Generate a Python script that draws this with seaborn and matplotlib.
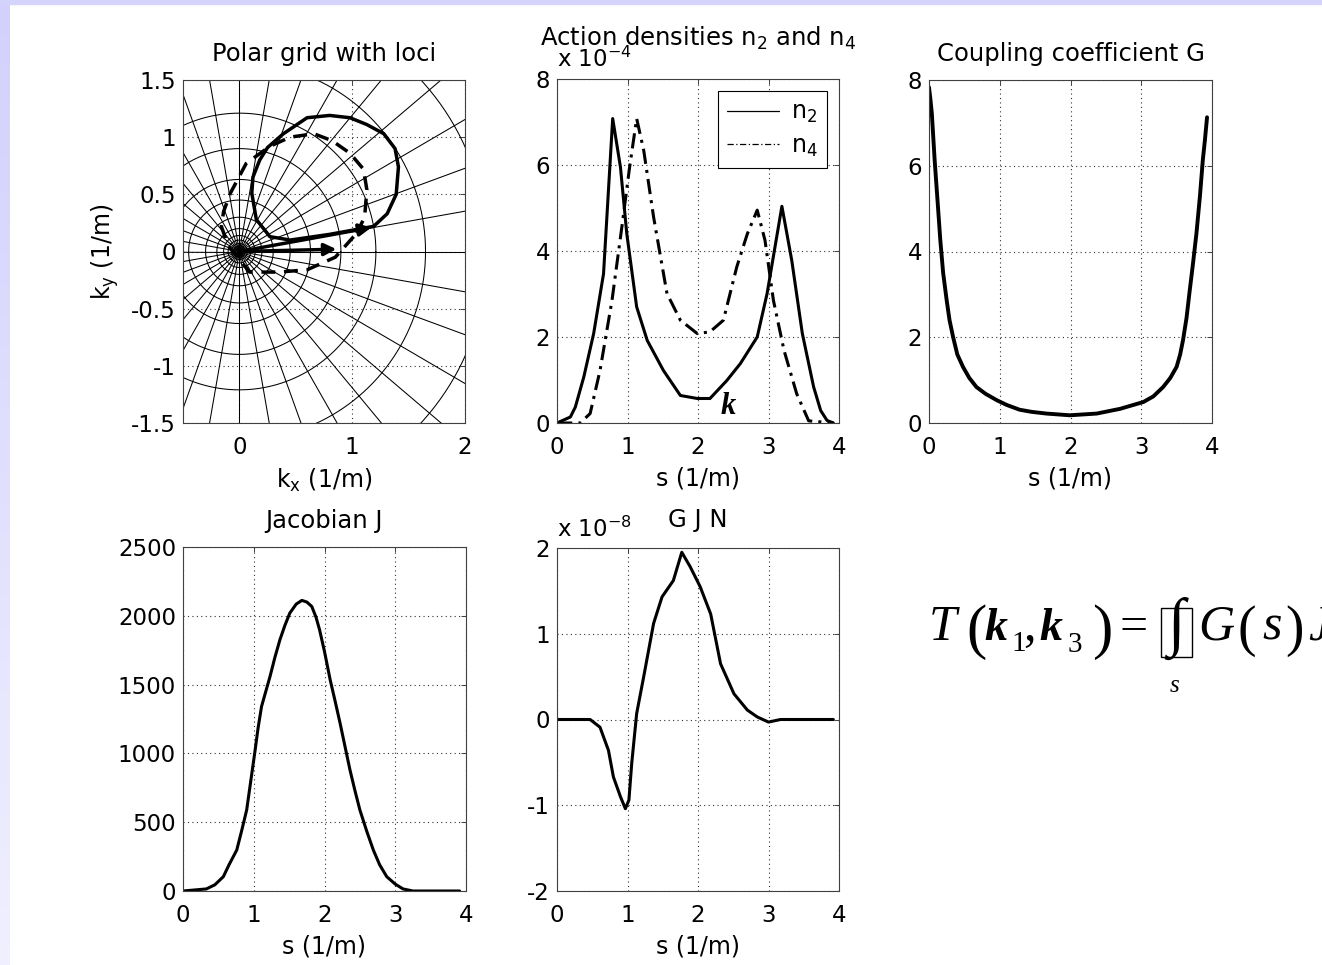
import numpy as np
import seaborn as sns
import matplotlib.pyplot as plt
from matplotlib.patches import Rectangle

# ---- data ----
# polar grid (circles centred on the origin, radial lines every 10 degrees)
grid_radii = [0.035, 0.05, 0.07, 0.1, 0.14, 0.2, 0.3, 0.45, 0.63, 0.9, 1.21, 1.65, 2.2, 2.9]
grid_angles_deg = list(range(0, 360, 10))

# solid locus
locus_solid_x = [1.19, 1.31, 1.39, 1.41, 1.38, 1.28, 1.13, 0.98, 0.80, 0.60, 0.39, 0.25, 0.18,
                 0.12, 0.11, 0.15, 0.27, 0.45, 0.80, 1.19]
locus_solid_y = [0.22, 0.33, 0.50, 0.74, 0.90, 1.03, 1.11, 1.17, 1.19, 1.17, 1.03, 0.91, 0.80,
                 0.65, 0.51, 0.28, 0.13, 0.10, 0.15, 0.22]
# dashed locus
locus_dash_x = [1.04, 1.11, 1.13, 1.10, 0.98, 0.82, 0.66, 0.45, 0.27, 0.06, -0.08, -0.14, -0.16,
                -0.10, 0.00, 0.09, 0.35, 0.60, 0.85, 1.04]
locus_dash_y = [0.16, 0.30, 0.54, 0.72, 0.86, 0.97, 1.03, 1.00, 0.92, 0.77, 0.51, 0.35, 0.22,
                0.05, -0.07, -0.18, -0.18, -0.16, -0.05, 0.16]
# wavenumber vectors drawn from the origin
vec_tips_x = [1.17, 0.86]
vec_tips_y = [0.21, 0.02]

# action densities (units of 1e-4)
s_n2 = [0.0, 0.19, 0.26, 0.38, 0.52, 0.66, 0.79, 0.90, 0.99, 1.13, 1.28, 1.51, 1.75, 1.99, 2.17,
        2.41, 2.60, 2.84, 2.98, 3.19, 3.33, 3.48, 3.64, 3.74, 3.83, 3.92]
n2 = [0.0, 0.14, 0.37, 1.07, 2.08, 3.47, 7.08, 5.95, 4.40, 2.70, 1.92, 1.22, 0.64, 0.57, 0.57,
      0.99, 1.38, 2.00, 3.01, 5.04, 3.78, 2.08, 0.84, 0.29, 0.06, 0.0]
s_n4 = [0.0, 0.33, 0.47, 0.61, 0.78, 0.92, 1.03, 1.13, 1.23, 1.37, 1.56, 1.75, 1.99, 2.17, 2.36,
        2.55, 2.70, 2.84, 2.95, 3.07, 3.22, 3.40, 3.57, 3.92]
n4 = [0.0, 0.0, 0.22, 1.22, 2.85, 4.56, 5.95, 7.08, 6.34, 4.79, 3.01, 2.39, 2.08, 2.12, 2.39,
      3.63, 4.40, 4.95, 4.25, 2.85, 1.69, 0.68, 0.05, 0.0]

# coupling coefficient G
s_G = [0.0, 0.02, 0.04, 0.08, 0.12, 0.16, 0.20, 0.25, 0.29, 0.34, 0.40, 0.48, 0.57, 0.67, 0.80,
       0.96, 1.10, 1.28, 1.45, 1.66, 1.99, 2.37, 2.70, 3.03, 3.17, 3.31, 3.41, 3.50, 3.55, 3.59,
       3.64, 3.68, 3.73, 3.78, 3.83, 3.87, 3.90, 3.93]
G = [7.83, 7.55, 7.22, 6.13, 5.20, 4.26, 3.50, 2.86, 2.40, 2.01, 1.60, 1.31, 1.05, 0.84, 0.68,
     0.53, 0.42, 0.31, 0.26, 0.22, 0.18, 0.22, 0.33, 0.49, 0.62, 0.84, 1.05, 1.31, 1.60, 1.93,
     2.45, 3.02, 3.70, 4.42, 5.30, 6.13, 6.60, 7.13]

# Jacobian J
s_J = [0.0, 0.33, 0.45, 0.57, 0.65, 0.76, 0.83, 0.90, 1.02, 1.06, 1.11, 1.17, 1.23, 1.30, 1.37,
       1.44, 1.51, 1.60, 1.68, 1.75, 1.82, 1.88, 1.93, 2.00, 2.08, 2.15, 2.22, 2.29, 2.36, 2.43,
       2.50, 2.60, 2.69, 2.78, 2.88, 3.00, 3.11, 3.25, 3.91]
J = [0, 15, 45, 104, 190, 298, 440, 589, 1026, 1180, 1341, 1450, 1559, 1700, 1826, 1930, 2020,
     2085, 2112, 2100, 2068, 1990, 1899, 1740, 1535, 1380, 1220, 1050, 880, 730, 589, 430, 298,
     190, 104, 50, 15, 0, 0]

# G J N (units of 1e-8)
s_GJN = [0.0, 0.47, 0.61, 0.73, 0.80, 0.90, 0.97, 1.02, 1.06, 1.13, 1.23, 1.37, 1.49, 1.65, 1.77,
         1.89, 2.03, 2.18, 2.32, 2.51, 2.70, 2.84, 3.00, 3.17, 3.92]
GJN = [0.0, 0.0, -0.09, -0.36, -0.67, -0.90, -1.04, -0.94, -0.51, 0.07, 0.50, 1.12, 1.43, 1.62,
       1.95, 1.78, 1.55, 1.23, 0.65, 0.30, 0.11, 0.03, -0.03, 0.0, 0.0]

W, H = 1322, 965

sns.set_theme(style="white")
plt.rcParams.update({
    "font.family": ["DejaVu Sans"],
    "text.color": "black",
    "axes.labelcolor": "black",
    "axes.unicode_minus": False,
    "axes.edgecolor": "#404040",
    "axes.linewidth": 0.8,
    "xtick.direction": "in",
    "ytick.direction": "in",
    "xtick.major.size": 3.5,
    "ytick.major.size": 3.5,
    "xtick.major.width": 0.7,
    "ytick.major.width": 0.7,
    "xtick.color": "#404040",
    "ytick.color": "#404040",
    "xtick.labelcolor": "black",
    "ytick.labelcolor": "black",
})

TICK_FS = 16.5
TITLE_FS = 17.5
LABEL_FS = 17
LW = 2.2


def px_box(l, t, r, b):
    return [l / W, 1 - b / H, (r - l) / W, (b - t) / H]


def style_axes(ax, title, pad, xlabel="s (1/m)"):
    ax.set_title(title, fontsize=TITLE_FS, pad=pad)
    ax.set_xlabel(xlabel, fontsize=LABEL_FS, labelpad=6)
    ax.tick_params(top=True, right=True, labelsize=TICK_FS)
    ax.tick_params(axis="x", pad=9)
    ax.tick_params(axis="y", pad=5)
    ax.grid(True, color="#303030", linestyle=(0, (1, 3)), linewidth=0.8)
    for sp in ax.spines.values():
        sp.set_visible(True)


fig = plt.figure(figsize=(W / 100, H / 100), dpi=100)
fig.patch.set_facecolor("white")

# slide background strips
fig.patches.append(Rectangle((0, 1 - 4 / H), 1, 4 / H, transform=fig.transFigure,
                             color="#D3D3FB", zorder=0))
strip = fig.add_axes([0, 0, 10 / W, 1 - 4 / H])
grad = np.linspace(0, 1, 256)[:, None, None]
top_c = np.array([0.82, 0.82, 0.99])
bot_c = np.array([0.94, 0.94, 1.0])
strip.imshow(top_c * (1 - grad) + bot_c * grad, aspect="auto")
strip.axis("off")

# ---- panel 1: polar grid with loci ----
ax1 = fig.add_axes(px_box(183, 80, 465, 423))
theta = np.linspace(0, 2 * np.pi, 361)
for r in grid_radii:
    ax1.plot(r * np.cos(theta), r * np.sin(theta), color="black", lw=0.75, zorder=1)
for a in grid_angles_deg:
    t = np.deg2rad(a)
    ax1.plot([0, 3 * np.cos(t)], [0, 3 * np.sin(t)], color="black", lw=0.75, zorder=1)
sns.lineplot(x=locus_solid_x, y=locus_solid_y, ax=ax1, sort=False, estimator=None,
             color="black", lw=LW + 0.3, zorder=3)
sns.lineplot(x=locus_dash_x, y=locus_dash_y, ax=ax1, sort=False, estimator=None,
             color="black", lw=LW + 0.3, linestyle=(0, (4, 2.5)), zorder=3)
for vx, vy in zip(vec_tips_x, vec_tips_y):
    ax1.annotate("", xy=(vx, vy), xytext=(0, 0),
                 arrowprops=dict(arrowstyle="-|>", color="black", lw=LW + 0.3,
                                 mutation_scale=18, shrinkA=0, shrinkB=0), zorder=4)
ax1.set_xlim(-0.5, 2)
ax1.set_ylim(-1.5, 1.5)
ax1.set_xticks([0, 1, 2])
ax1.set_yticks([-1.5, -1, -0.5, 0, 0.5, 1, 1.5])
ax1.set_yticklabels(["-1.5", "-1", "-0.5", "0", "0.5", "1", "1.5"])
style_axes(ax1, "Polar grid with loci", 13.5, xlabel=r"k$_\mathregular{x}$ (1/m)")
ax1.set_ylabel(r"k$_\mathregular{y}$ (1/m)", fontsize=LABEL_FS, labelpad=7)

# ---- panel 2: action densities ----
ax2 = fig.add_axes(px_box(557, 79, 839, 423))
sns.lineplot(x=s_n2, y=n2, ax=ax2, estimator=None, color="black", lw=LW,
             label=r"n$_\mathregular{2}$")
sns.lineplot(x=s_n4, y=n4, ax=ax2, estimator=None, color="black", lw=LW,
             linestyle=(0, (5, 2, 1, 2)), label=r"n$_\mathregular{4}$")
ax2.set_xlim(0, 4)
ax2.set_ylim(0, 8)
ax2.set_xticks([0, 1, 2, 3, 4])
ax2.set_yticks([0, 2, 4, 6, 8])
style_axes(ax2, r"Action densities n$_\mathregular{2}$ and n$_\mathregular{4}$", 24)
leg = ax2.legend(loc="upper right", bbox_to_anchor=(0.958, 0.966), borderaxespad=0,
                 fontsize=LABEL_FS, frameon=True, fancybox=False, framealpha=1,
                 edgecolor="black", handlelength=2.2, labelspacing=0.35,
                 borderpad=0.4, handletextpad=0.5)
leg.get_frame().set_linewidth(0.8)
for line in leg.get_lines():
    line.set_linewidth(0.9)
ax2.text(2.32, 0.2, "k", fontsize=22, family="Liberation Serif", style="italic",
         weight="bold", zorder=5)
fig.text(557 / W, 1 - 67 / H, r"x 10$^{-4}$", fontsize=TICK_FS, va="baseline")

# ---- panel 3: coupling coefficient ----
ax3 = fig.add_axes(px_box(929, 80, 1212, 423))
sns.lineplot(x=s_G, y=G, ax=ax3, estimator=None, color="black", lw=LW + 0.6)
ax3.set_xlim(0, 4)
ax3.set_ylim(0, 8)
ax3.set_xticks([0, 1, 2, 3, 4])
ax3.set_yticks([0, 2, 4, 6, 8])
style_axes(ax3, "Coupling coefficient G", 14)

# ---- panel 4: Jacobian ----
ax4 = fig.add_axes(px_box(183, 547, 466, 891))
sns.lineplot(x=s_J, y=J, ax=ax4, estimator=None, color="black", lw=LW)
ax4.set_xlim(0, 4)
ax4.set_ylim(0, 2500)
ax4.set_xticks([0, 1, 2, 3, 4])
ax4.set_yticks([0, 500, 1000, 1500, 2000, 2500])
style_axes(ax4, "Jacobian J", 14)

# ---- panel 5: G J N ----
ax5 = fig.add_axes(px_box(557, 548, 839, 891))
sns.lineplot(x=s_GJN, y=GJN, ax=ax5, estimator=None, color="black", lw=LW)
ax5.set_xlim(0, 4)
ax5.set_ylim(-2, 2)
ax5.set_xticks([0, 1, 2, 3, 4])
ax5.set_yticks([-2, -1, 0, 1, 2])
style_axes(ax5, "G J N", 15)
fig.text(557 / W, 1 - 537 / H, r"x 10$^{-8}$", fontsize=TICK_FS, va="baseline")

# ---- formula ----
serif = ["Liberation Serif", "DejaVu Serif"]


def ftext(x, y, s, size=36, style="normal", weight="normal", ha="left", va="baseline"):
    fig.text(x / W, 1 - y / H, s, fontsize=size, family=serif, style=style,
             weight=weight, ha=ha, va=va)


ftext(929, 640, "T", style="italic")
ftext(966, 647, "(", size=44)
ftext(984, 640, "k", size=33, style="italic", weight="bold")
ftext(1011, 651, "1", size=21)
ftext(1023, 640, ",")
ftext(1039, 640, "k", size=33, style="italic", weight="bold")
ftext(1068, 652, "3", size=21)
ftext(1092, 647, ")", size=44)
ftext(1120, 640, "=")
fig.patches.append(Rectangle((1161 / W, 1 - 657 / H), 31 / W, 49 / H,
                             transform=fig.transFigure, fill=False, lw=1.0,
                             edgecolor="black"))
ftext(1176, 628, "\u222b", size=46, ha="center", va="center")
ftext(1198, 640, "G", style="italic")
ftext(1238, 645, "(", size=40)
ftext(1262, 640, "s", style="italic")
ftext(1285, 645, ")", size=40)
ftext(1308, 640, "J", style="italic")
ftext(1170, 692, "s", size=18, style="italic")

fig.savefig("out.png", dpi=100, facecolor="white")
